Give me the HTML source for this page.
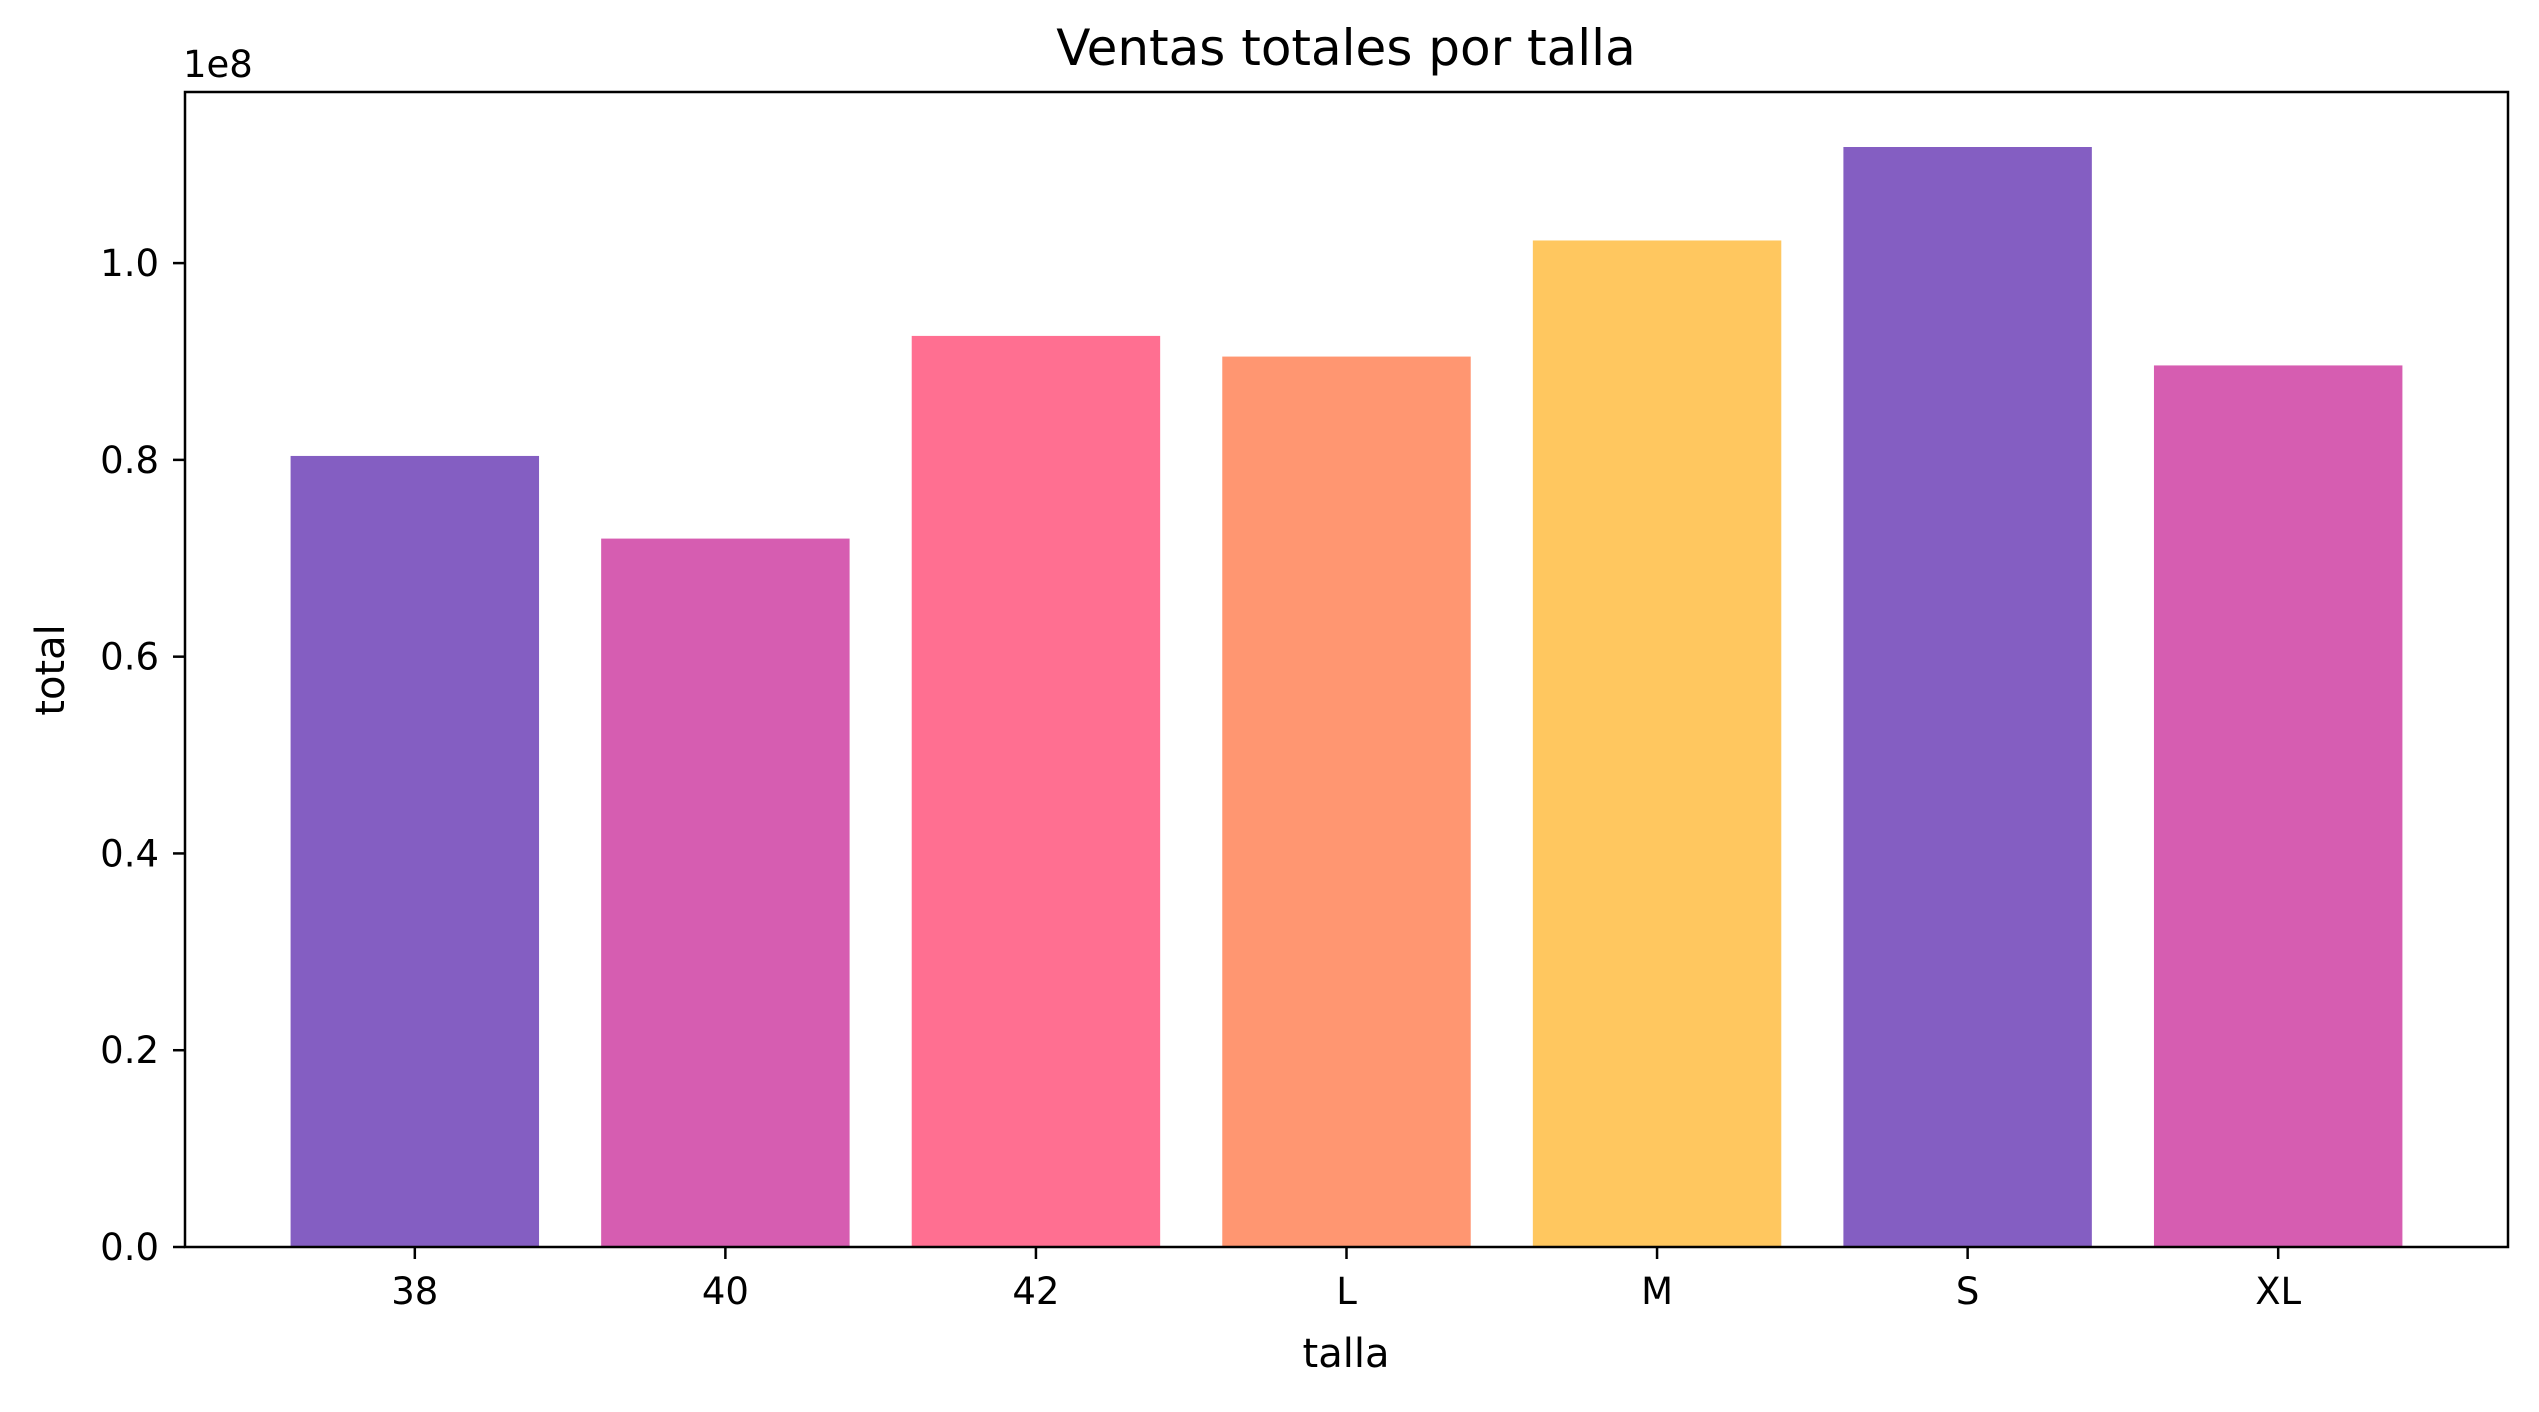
<!DOCTYPE html>
<html><head><meta charset="utf-8"><style>
html,body{margin:0;padding:0;background:#fff;}
svg text{font-family:"DejaVu Sans","Liberation Sans",sans-serif;fill:#000;}
</style></head><body>
<svg id="chart" width="2539" height="1407" viewBox="0 0 2539 1407" xmlns="http://www.w3.org/2000/svg">
<text x="1346" y="65" font-size="50" text-anchor="middle">Ventas totales por talla</text>
<g id="bars"></g>
<g id="axes"></g>
<text x="1346" y="1367" font-size="40" text-anchor="middle">talla</text>
<text transform="translate(64,670) rotate(-90)" font-size="40" text-anchor="middle">total</text>
<text x="183" y="77" font-size="37">1e8</text>
</svg>
<script>
const categories = ["38","40","42","L","M","S","XL"];
const totals = [0.804, 0.720, 0.926, 0.905, 1.023, 1.118, 0.896];
const yTicks = [0.0, 0.2, 0.4, 0.6, 0.8, 1.0];
const yTickLabels = ["0.0","0.2","0.4","0.6","0.8","1.0"];
const colors = ["#845EC2","#D65DB1","#FF6F91","#FF9671","#FFC75F","#845EC2","#D65DB1"];

const L=185,R=2508,T=92,B=1247;
const xmin=-0.74,xmax=categories.length-1+0.74;
const ymax=Math.max(...totals)*1.05;
const xs=v=>L+(v-xmin)/(xmax-xmin)*(R-L);
const ys=v=>B-v/ymax*(B-T);
const NS="http://www.w3.org/2000/svg";
const bars=document.getElementById('bars'),axes=document.getElementById('axes');
function mk(tag,attrs,parent){const e=document.createElementNS(NS,tag);for(const k in attrs)e.setAttribute(k,attrs[k]);parent.appendChild(e);return e;}
totals.forEach((v,i)=>{
  const x0=xs(i-0.4),x1=xs(i+0.4);
  const r=mk('rect',{x:x0,y:ys(v),width:x1-x0,height:B-ys(v),fill:colors[i]},bars);
  
  
});
const frame=mk('rect',{x:L,y:T,width:R-L,height:B-T,fill:'none',stroke:'#000','stroke-width':2.5},axes);


yTicks.forEach((v,i)=>{
  const y=ys(v);
  const t=mk('line',{x1:L-12,x2:L,y1:y,y2:y,stroke:'#000','stroke-width':2.5},axes);
  
  
  const lb=mk('text',{x:L-26,y:y+13,'font-size':37,'text-anchor':'end'},axes);
  lb.textContent=yTickLabels[i];
  
  
});
categories.forEach((c,i)=>{
  const x=xs(i);
  const t=mk('line',{x1:x,x2:x,y1:B,y2:B+12,stroke:'#000','stroke-width':2.5},axes);
  
  
  const lb=mk('text',{x:x,y:B+57,'font-size':37,'text-anchor':'middle'},axes);
  lb.textContent=c;
  
  
});
</script>
</body></html>
